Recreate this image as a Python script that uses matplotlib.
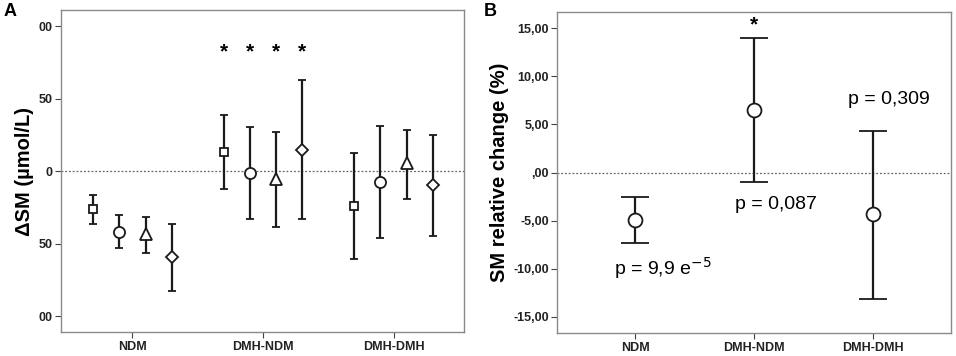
import matplotlib.pyplot as plt

# -------------------- DATA --------------------
groups = ['NDM', 'DMH-NDM', 'DMH-DMH']
markers_a = ['s', 'o', '^', 'D']
offsets_a = [-0.3, -0.1, 0.1, 0.3]

# panel A: mean, upper, lower per group (rows) and marker (columns)
mean_a = [[-26.2, -41.6, -43.5, -59.3],
          [13.1, -1.4, -5.1, 14.7],
          [-24.1, -7.6, 5.5, -9.7]]
upper_a = [[-16.1, -30.1, -31.7, -36.3],
           [38.8, 30.6, 26.9, 63.0],
           [12.4, 31.0, 28.7, 25.3]]
lower_a = [[-36.3, -52.9, -56.6, -82.6],
           [-12.4, -33.1, -38.2, -33.1],
           [-60.5, -46.2, -19.3, -44.4]]
yticks_a = [100, 50, 0, -50, -100]
yticklabels_a = ['00', '50', '0', '50', '00']

# panel B
mean_b = [-4.92, 6.46, -4.36]
upper_b = [-2.53, 14.0, 4.36]
lower_b = [-7.33, -1.0, -13.1]
yticks_b = [15, 10, 5, 0, -5, -10, -15]
yticklabels_b = ['15,00', '10,00', '5,00', ',00', '-5,00', '-10,00', '-15,00']
p_labels = ['p = 9,9 e$^{-5}$', 'p = 0,087', 'p = 0,309']
p_label_y = [-9.9, -3.3, 7.6]

plt.rcParams['font.family'] = ['Liberation Sans', 'DejaVu Sans']
frame_col = '#8a8a8a'

fig = plt.figure(figsize=(9.56, 3.56), dpi=100)
W, H = 956, 356
axA = fig.add_axes([60.7 / W, 1 - 332.3 / H, (464 - 60.7) / W, (332.3 - 10.3) / H])
axB = fig.add_axes([557 / W, 1 - 333.3 / H, (951.3 - 557) / W, (333.3 - 11.7) / H])


def style(ax):
    for s in ax.spines.values():
        s.set_color(frame_col)
        s.set_linewidth(1.0)
    ax.tick_params(axis='both', direction='out', length=4, width=0.8,
                   color='#444444', labelsize=9, pad=2)
    for lab in ax.get_xticklabels() + ax.get_yticklabels():
        lab.set_fontweight('bold')
        lab.set_color('#222222')
    ax.axhline(0, color='#666666', linestyle=(0, (1.5, 1.5)), linewidth=0.9, zorder=1)


# -------------------- PANEL A --------------------
msize = {'s': 6, 'o': 8, '^': 8, 'D': 6.5}
for gi in range(len(groups)):
    for mi in range(4):
        x = gi + offsets_a[mi]
        m = mean_a[gi][mi]
        mk = markers_a[mi]
        axA.errorbar([x], [m],
                     yerr=[[m - lower_a[gi][mi]], [upper_a[gi][mi] - m]],
                     fmt=mk, color='#1a1a1a', ecolor='#1a1a1a',
                     elinewidth=1.6, capsize=3, capthick=1.6,
                     markerfacecolor='white', markeredgecolor='#1a1a1a',
                     markeredgewidth=1.3, markersize=msize[mk], zorder=3)
    if gi == 1:
        for mi in range(4):
            axA.text(gi + offsets_a[mi], 82, '*', ha='center', va='center',
                     fontsize=15, fontweight='bold')

axA.set_xlim(-0.55, 2.54)
axA.set_ylim(-111, 111)
axA.set_xticks(range(len(groups)))
axA.set_xticklabels(groups)
axA.set_yticks(yticks_a)
axA.set_yticklabels(yticklabels_a)
axA.set_ylabel('ΔSM (µmol/L)', fontsize=14.5, fontweight='bold', labelpad=3)
style(axA)

# -------------------- PANEL B --------------------
for gi in range(len(groups)):
    m = mean_b[gi]
    axB.errorbar([gi], [m], yerr=[[m - lower_b[gi]], [upper_b[gi] - m]],
                 fmt='o', color='#1a1a1a', ecolor='#1a1a1a', elinewidth=1.6,
                 capsize=10, capthick=1.6, markerfacecolor='white',
                 markeredgecolor='#1a1a1a', markeredgewidth=1.3, markersize=10,
                 zorder=3)

axB.text(1, 15.3, '*', ha='center', va='center', fontsize=15, fontweight='bold')
p_label_dx = [-0.18, -0.16, -0.21]
for gi in range(len(groups)):
    axB.text(gi + p_label_dx[gi], p_label_y[gi], p_labels[gi],
             ha='left', va='center', fontsize=14)

axB.set_xlim(-0.66, 2.66)
axB.set_ylim(-16.7, 16.7)
axB.set_xticks(range(len(groups)))
axB.set_xticklabels(groups)
axB.set_yticks(yticks_b)
axB.set_yticklabels(yticklabels_b)
axB.set_ylabel('SM relative change (%)', fontsize=14.5, fontweight='bold', labelpad=3)
style(axB)

fig.text(4 / W, 1 - 12 / H, 'A', fontsize=13, fontweight='bold', va='center')
fig.text(484 / W, 1 - 12 / H, 'B', fontsize=13, fontweight='bold', va='center')

fig.savefig('out.png', dpi=100)
